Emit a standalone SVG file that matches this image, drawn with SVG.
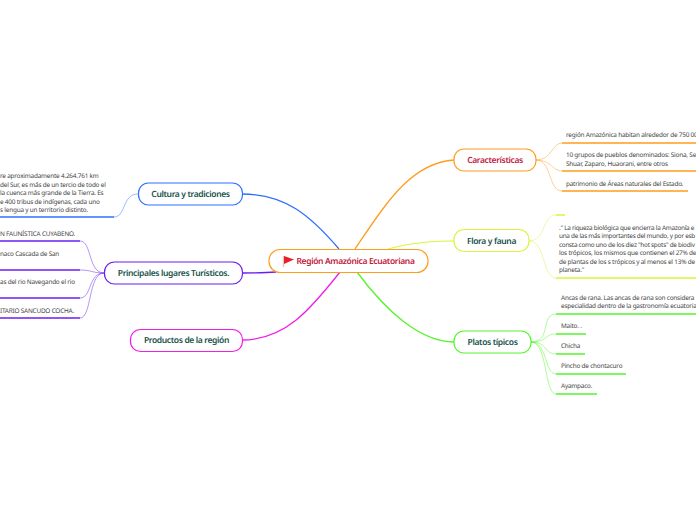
<svg xmlns="http://www.w3.org/2000/svg" width="696" height="520" viewBox="0 0 696 520">
<style>
text{font-family:"Noto Sans","Open Sans",sans-serif;text-rendering:geometricPrecision}
.m{font-size:8.5px;font-weight:600;fill:#16514a;text-anchor:middle;letter-spacing:-.36px}
.r{fill:#c2183c}
.t{font-size:6.4px;fill:#444;letter-spacing:-.2px}
.f{letter-spacing:-.27px}
.n{fill:#fff;stroke-width:1.2}
.c{fill:none;stroke-width:1.3}
.l{fill:none;stroke-width:.8;opacity:.6}
.u{fill:none;stroke-width:1.5}
.or{stroke:#ff9d1f}.ye{stroke:#d8f53a}.gr{stroke:#55f52b}.bl{stroke:#2f6fff}.pu{stroke:#6a1ef0}.pk{stroke:#f01fe8}
</style>
<rect width="696" height="520" fill="#fff"/>
<g id="connectors">
<path class="c or" d="M355 249C385 205 410 163 454 160"/>
<path class="c ye" d="M388 249C410 243 430 241 454 241" style="stroke-width:1"/>
<path class="c gr" d="M357 272C385 310 420 342 454 342"/>
<path class="c bl" d="M339 249C310 215 285 194 242 194"/>
<path class="c pu" d="M276 272C265 273 255 273 243 273"/>
<path class="c pk" d="M340 272C310 310 285 340 242 340"/>
<path class="l or" d="M536 160C552 160 552 143 562 143"/><path class="u or" d="M562 143H696"/>
<path class="l or" d="M536 160C552 160 552 171 562 171"/><path class="u or" d="M562 171H696"/>
<path class="l or" d="M536 160C552 160 548 191 562 191"/><path class="u or" d="M562 191H688"/>
<path class="l ye" d="M529 241C546 241 542 215 556 215"/><path class="u ye" d="M556 215H565"/>
<path class="l ye" d="M529 241C546 241 542 278 556 278"/><path class="u ye" d="M556 278H696"/>
<path class="l gr" d="M531 342C552 342 540 314 556 314"/><path class="u gr" d="M556 314H696"/>
<path class="l gr" d="M531 342C548 342 544 334 556 334"/><path class="u gr" d="M556 334H586"/>
<path class="l gr" d="M531 342C548 342 544 354 556 354"/><path class="u gr" d="M556 354H585"/>
<path class="l gr" d="M531 342C548 342 544 374 556 374"/><path class="u gr" d="M556 374H626"/>
<path class="l gr" d="M531 342C548 342 544 394 556 394"/><path class="u gr" d="M556 394H597"/>
<path class="l bl" d="M138 194C122 194 126 217 114 217"/><path class="u bl" d="M114 217H0"/>
<path class="l pu" d="M104 273C88 273 92 241 80 241"/><path class="u pu" d="M80 241H0"/>
<path class="l pu" d="M104 273C92 273 92 270 80 270"/><path class="u pu" d="M80 270H0"/>
<path class="l pu" d="M104 273C88 273 92 298 80 298"/><path class="u pu" d="M80 298H0"/>
<path class="l pu" d="M104 273C88 273 92 318 80 318"/><path class="u pu" d="M80 318H0"/>
</g>
<g id="root">
<rect class="n or" x="269" y="249.500" width="159" height="23" rx="11"/>
<path d="M283.500 256V267" stroke="#e8c9b8" stroke-width="1.500"/>
<path d="M284 256L294 259.500L284 264Z" fill="#e8202a"/>
<text class="m r" x="355.500" y="263.500">Región Amazónica Ecuatoriana</text>
</g>
<g id="caracteristicas">
<rect class="n or" x="454" y="149" width="82" height="22" rx="10"/>
<text class="m r" x="495" y="163">Características</text>
<text class="t" x="566" y="137">región Amazónica habitan alrededor de 750 00</text>
<text class="t" x="566" y="157">10 grupos de pueblos denominados: Siona, Se</text>
<text class="t" x="566" y="166">Shuar, Zaparo, Huaorani, entre otros</text>
<text class="t" x="566" y="186">patrimonio de Áreas naturales del Estado.</text>
</g>
<g id="flora">
<rect class="n ye" x="454" y="229.500" width="75" height="22" rx="10"/>
<text class="m" x="491.500" y="244">Flora y fauna</text>
<text class="t f" x="559" y="230">." La riqueza biológica que encierra la Amazonía e</text>
<text class="t f" x="559" y="238.400">una de las más importantes del mundo, y por esb</text>
<text class="t f" x="559" y="246.800">consta como uno de los diez "hot spots" de biodiv</text>
<text class="t" x="559" y="255.200">los trópicos, los mismos que contienen el 27% de</text>
<text class="t" x="559" y="263.600">de plantas de los s trópicos y al menos el 13% de</text>
<text class="t" x="559" y="272">planeta."</text>
</g>
<g id="platos">
<rect class="n gr" x="454" y="331" width="77" height="22" rx="10"/>
<text class="m" x="492.500" y="345">Platos típicos</text>
<text class="t" x="561" y="299.500">Ancas de rana. Las ancas de rana son considera</text>
<text class="t" x="561" y="308">especialidad dentro de la gastronomía ecuatoria</text>
<text class="t" x="561" y="328">Maito. .</text>
<text class="t" x="561" y="348">Chicha</text>
<text class="t" x="561" y="368">Pincho de chontacuro</text>
<text class="t" x="561" y="388">Ayampaco.</text>
</g>
<g id="cultura">
<rect class="n bl" x="138.500" y="183" width="104" height="22" rx="10"/>
<text class="m" x="190.500" y="197">Cultura y tradiciones</text>
<text class="t" x="0" y="178">re aproximadamente 4.264.761 km</text>
<text class="t" x="0" y="187">del Sur, es más de un tercio de todo el</text>
<text class="t" x="0" y="195">la cuenca más grande de la Tierra. Es</text>
<text class="t" x="0" y="204">e 400 tribus de indígenas, cada uno</text>
<text class="t" x="0" y="212">s lengua y un territorio distinto.</text>
</g>
<g id="lugares">
<rect class="n pu" x="104.500" y="262" width="138" height="22" rx="10"/>
<text class="m" x="173.500" y="276">Principales lugares Turísticos.</text>
<text class="t" x="0" y="236">N FAUNÍSTICA CUYABENO.</text>
<text class="t" x="0" y="256">naco Cascada de San</text>
<text class="t" x="0" y="284">as del rio Navegando el rio</text>
<text class="t" x="0" y="313">ITARIO SANCUDO COCHA.</text>
</g>
<g id="productos">
<rect class="n pk" x="130.500" y="329.500" width="112" height="22" rx="10"/>
<text class="m" x="186.500" y="343">Productos de la región</text>
</g>
</svg>
